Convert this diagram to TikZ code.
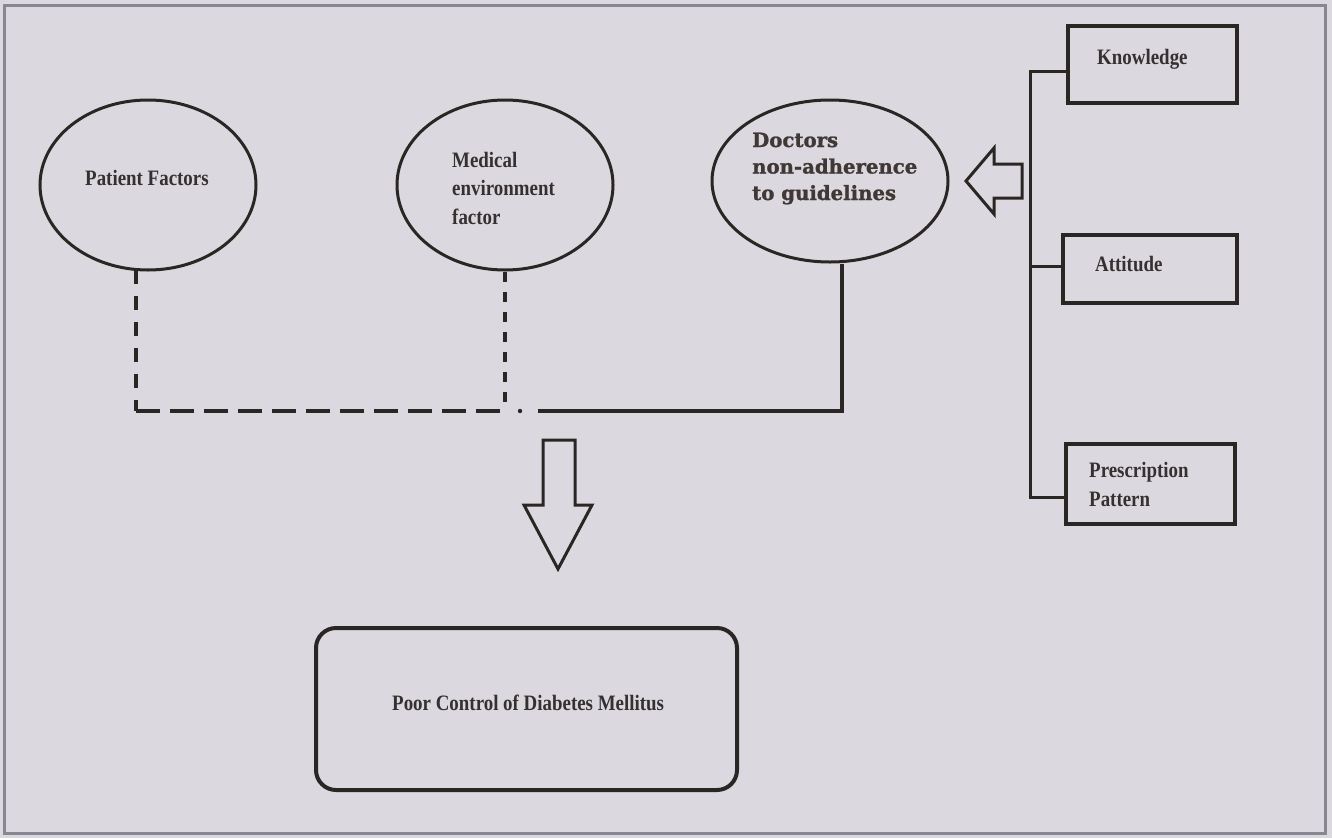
\documentclass[tikz,border=0pt]{standalone}
\usepackage{fontspec}
\setmainfont{Liberation Serif}
\newfontfamily\condfont[FakeStretch=0.86]{Liberation Serif}
\newfontfamily\docfont[FakeBold=1.2]{DejaVu Serif}
\usetikzlibrary{shapes.geometric}
\definecolor{bgc}{HTML}{DCD8E0}
\definecolor{ink}{HTML}{2A2624}
\definecolor{txt}{HTML}{363130}
\definecolor{dtxt}{HTML}{403835}
\definecolor{frm}{HTML}{8A8690}
\tikzset{
  oval/.style={ellipse, draw=ink, line width=3pt, inner sep=0pt},
  sqbox/.style={rectangle, draw=ink, line width=4pt, inner sep=0pt},
  lbl/.style={text=txt, font=\condfont\bfseries\fontsize{22}{28.5}\selectfont, align=left, inner sep=0pt, anchor=base west},
  conn/.style={draw=ink, line width=3pt},
  dashv/.style={conn, line width=4pt, dash pattern=on 14pt off 12pt},
  dashh/.style={conn, line width=4pt, dash pattern=on 24pt off 10pt},
  hollow/.style={draw=ink, line width=3pt, fill=bgc, line join=miter}
}
\begin{document}
\begin{tikzpicture}[x=1pt,y=-1pt]
\useasboundingbox (0,0) rectangle (1332,838);
\fill[bgc] (0,0) rectangle (1332,838);
\draw[frm, line width=3pt] (4,5) rectangle (1325,833);

% ellipses
\node[oval, minimum width=216pt, minimum height=170pt] (patient) at (148,185) {};
\node[oval, minimum width=216pt, minimum height=170pt] (medical) at (505,185) {};
\node[oval, minimum width=236pt, minimum height=162pt] (doctors) at (830,181) {};

% texts (base west = baseline of the last line)
\node[lbl] (tpatient) at (85,185) {Patient Factors};
\node[lbl] (tmedical) at (452,224) {Medical\\environment\\factor};
\node[lbl, text=dtxt, font=\docfont\bfseries\fontsize{19.7}{26.5}\selectfont] (tdoctors) at (752,200) {Doctors\\non-adherence\\to guidelines};

% right boxes
\node[sqbox, minimum width=169pt, minimum height=77pt] (know) at (1152.5,64.5) {};
\node[sqbox, minimum width=174pt, minimum height=68pt] (att) at (1150,269) {};
\node[sqbox, minimum width=169pt, minimum height=80pt] (presc) at (1150.5,484) {};
\node[lbl] (tknow) at (1097,64) {Knowledge};
\node[lbl] (tatt) at (1095,271) {Attitude};
\node[lbl, font=\condfont\bfseries\fontsize{22}{29}\selectfont] (tpresc) at (1089,506) {Prescription\\Pattern};

% bracket
\coordinate (bt) at (1030,71);
\coordinate (bm) at (1030,266);
\coordinate (bb) at (1030,497);
\draw[conn, line cap=rect] (know.west |- bt) -- (bt) -- (bb) -- (presc.west |- bb);
\draw[conn] (bm) -- (att.west |- bm);

% hollow left arrow
\coordinate (la) at (966,181);
\draw[hollow] (la) -- (994,148) -- (994,164) -- (1022,164) -- (1022,198) -- (994,198) -- (994,214) -- cycle;

% junction lines
\coordinate (j1) at (136,411);
\coordinate (j2) at (505,411);
\coordinate (jd) at (520,411);
\coordinate (js) at (538,411);
\coordinate (j3) at (842,411);
\draw[dashv] (patient.south -| j1) ++(0,-2) -- (j1);
\draw[dashh] (j1) -- (j2);
\draw[dashv, dash pattern=on 10pt off 10pt] (medical.south) -- (j2);
\fill[ink] (jd) circle (2.2pt);
\draw[conn, line width=3.5pt] (js) -- (j3) -- (doctors.south -| j3);

% hollow down arrow
\coordinate (da) at (558,569);
\draw[hollow] (543,440) -- (575,440) -- (575,505) -- (592,505) -- (da) -- (524,505) -- (543,505) -- cycle;

% result box
\node[rectangle, rounded corners=20pt, draw=ink, line width=4pt, minimum width=421pt, minimum height=162pt, inner sep=0pt] (poor) at (526.5,709) {};
\node[lbl] (tpoor) at (392,710) {Poor Control of Diabetes Mellitus};
\end{tikzpicture}
\end{document}
